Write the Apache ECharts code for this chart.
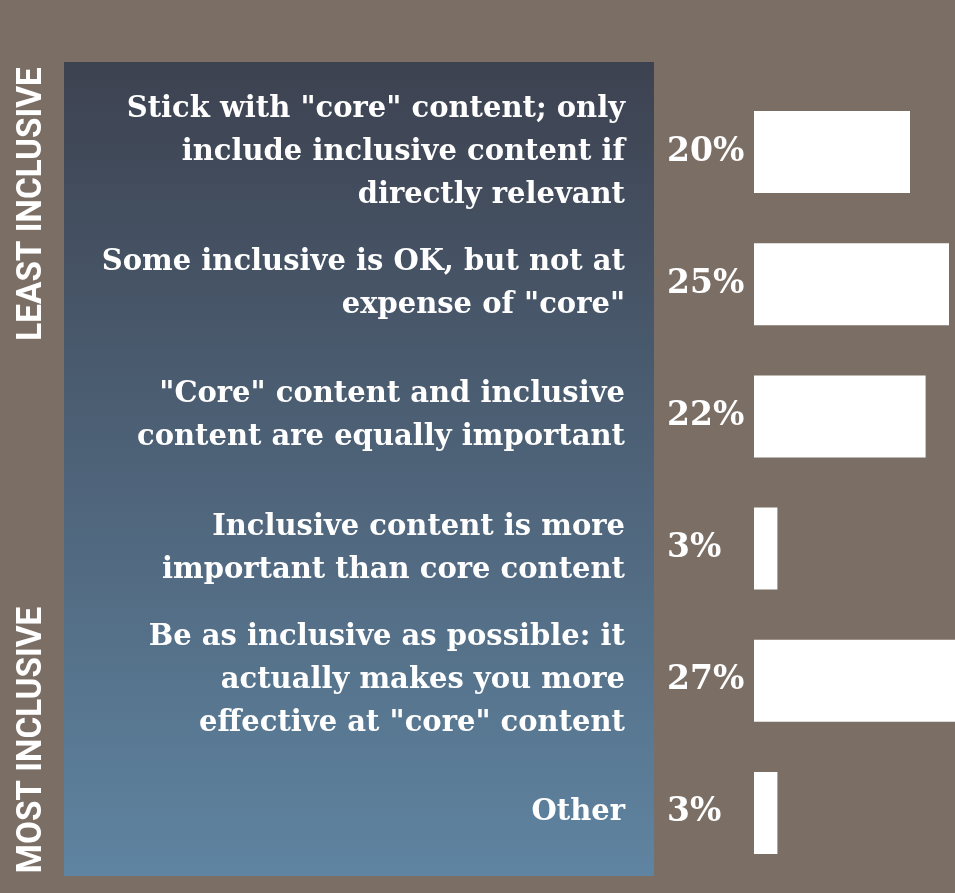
<!DOCTYPE html>
<html>
<head>
<meta charset="utf-8">
<script src="https://cdn.jsdelivr.net/npm/echarts@6/dist/echarts.min.js"></script>
<style>
  html, body { margin: 0; padding: 0; background: #7b6e65; }
  #chart { width: 955px; height: 893px; }
</style>
</head>
<body>
<div id="chart"></div>
<script>
const categories = [
  'Stick with "core" content; only\ninclude inclusive content if\ndirectly relevant',
  'Some inclusive is OK, but not at\nexpense of "core"',
  '"Core" content and inclusive\ncontent are equally important',
  'Inclusive content is more\nimportant than core content',
  'Be as inclusive as possible: it\nactually makes you more\neffective at "core" content',
  'Other'
]
const shares = [20, 25, 22, 3, 27, 3]
const sideLabels = ['LEAST INCLUSIVE', 'MOST INCLUSIVE']

const serif = '"DejaVu Serif", serif'
const chart = echarts.init(document.getElementById('chart'))

const sideText = (text, y) => ({
  type: 'text',
  x: 32,
  y: y,
  rotation: Math.PI / 2,
  scaleX: 0.95,
  style: {
    text: text,
    fill: '#fff',
    font: 'bold 35px Roboto, sans-serif',
    align: 'center',
    verticalAlign: 'middle'
  }
})

const option = {
  backgroundColor: '#7b6e65',
  animation: false,
  graphic: [
    // gradient panel behind the labels
    {
      type: 'rect',
      z: -10,
      shape: { x: 64, y: 62, width: 590, height: 814 },
      style: {
        fill: new echarts.graphic.LinearGradient(0, 0, 0, 1, [
          { offset: 0, color: '#3d4250' },
          { offset: 1, color: '#5f84a1' }
        ])
      }
    },
    sideText(sideLabels[0], 204),
    sideText(sideLabels[1], 740)
  ],
  grid: {
    left: 754,
    top: 86,
    width: 234,
    height: 793,
    outerBoundsMode: 'none'
  },
  xAxis: {
    type: 'value',
    min: 0,
    max: 30,
    show: false
  },
  yAxis: {
    type: 'category',
    data: categories,
    inverse: true,
    axisLine: { show: false },
    axisTick: { show: false },
    splitLine: { show: false },
    axisLabel: {
      margin: 129,
      align: 'right',
      color: '#fff',
      fontFamily: serif,
      fontWeight: 'bold',
      fontSize: 29,
      lineHeight: 43
    }
  },
  series: [
    {
      type: 'bar',
      data: shares,
      barWidth: 82,
      itemStyle: { color: '#ffffff' },
      label: {
        show: true,
        position: 'insideLeft',
        distance: 0,
        offset: [-87, 0],
        formatter: '{c}%',
        color: '#fff',
        fontFamily: serif,
        fontWeight: 'bold',
        fontSize: 33
      }
    }
  ]
}

chart.setOption(option)
</script>
</body>
</html>
